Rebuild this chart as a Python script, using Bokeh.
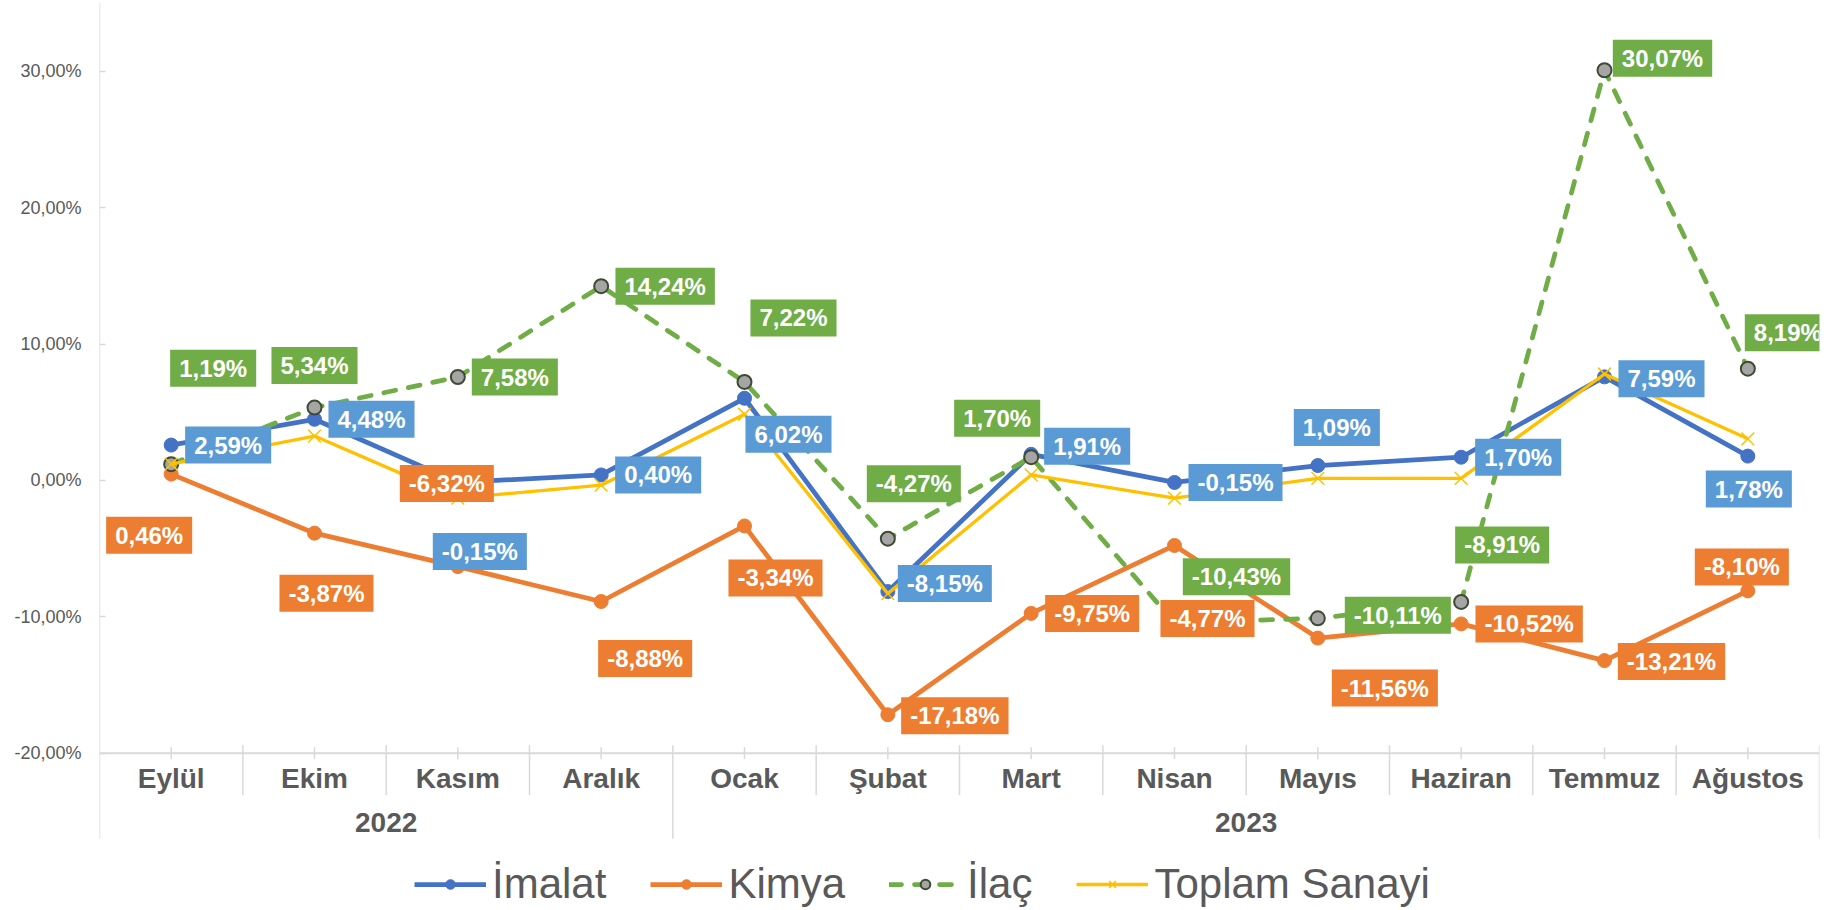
from bokeh.plotting import figure
from bokeh.models import Range1d, FixedTicker, Label, Legend, LegendItem
from bokeh.core.properties import value
from bokeh.embed import file_html
from bokeh.resources import INLINE

# ---------------- data ----------------
months = ["Eylül", "Ekim", "Kasım", "Aralık", "Ocak", "Şubat", "Mart",
          "Nisan", "Mayıs", "Haziran", "Temmuz", "Ağustos"]
years = ["2022", "2023"]
year_first_month = [0, 4]          # index of first month of each year group
imalat = [2.59, 4.48, -0.15, 0.40, 6.02, -8.15, 1.91, -0.15, 1.09, 1.70, 7.59, 1.78]
kimya = [0.46, -3.87, -6.32, -8.88, -3.34, -17.18, -9.75, -4.77, -11.56, -10.52, -13.21, -8.10]
ilac = [1.19, 5.34, 7.58, 14.24, 7.22, -4.27, 1.70, -10.43, -10.11, -8.91, 30.07, 8.19]
toplam = [1.20, 3.25, -1.30, -0.35, 4.85, -8.30, 0.40, -1.30, 0.15, 0.15, 7.80, 3.05]
series_names = ["İmalat", "Kimya", "İlaç", "Toplam Sanayi"]
y_ticks = [-20, -10, 0, 10, 20, 30]
y_tick_labels = ["-20,00%", "-10,00%", "0,00%", "10,00%", "20,00%", "30,00%"]

# ---------------- layout / style ----------------
W, H = 1827, 908
PPU = 13.64                         # pixels per percentage point
Y_TOP = 479.9 / PPU
Y_BOT = Y_TOP - H / PPU
AXIS_Y = -20.0
def px(d):
    return d / PPU

C_BLUE, C_ORANGE, C_GREEN, C_GOLD = "#4472C4", "#ED7D31", "#70AD47", "#FFC000"
C_BLUE_LBL = "#5B9BD5"
AX_COL = "#D9D9D9"
TXT_COL = "#595959"
FONT = "Liberation Sans"

# data label offsets (screen px, y downward) relative to each point
off_imalat = [(57, 0), (57, 0), (22, 69), (57, 0), (44, 36), (57, -8), (56, -8),
              (61, 0), (19, -38), (57, 0), (57, 2), (1, 33)]
off_kimya = [(-22, 61), (12, 60), (-11, -83), (44, 57), (31, 52), (67, 1), (61, 0),
             (33, 73), (67, 50), (68, 0), (67, 1), (-6, -24)]
off_ilac = [(42, -96), (0, -42), (57, 0), (64, 0), (49, -64), (26, -55), (-34, -39),
            (62, -46), (80, -3), (41, -57), (58, -12), (40, -36)]

xc = [i + 0.5 for i in range(len(months))]

p = figure(width=W, height=H, output_backend="svg", toolbar_location=None,
           x_range=Range1d(0, len(months)), y_range=Range1d(Y_BOT, Y_TOP),
           min_border_left=99, min_border_right=8, min_border_top=0, min_border_bottom=0,
           x_axis_location=None)
p.outline_line_color = None
p.xgrid.grid_line_color = None
p.ygrid.grid_line_color = None
p.background_fill_color = "white"

yax = p.yaxis[0]
yax.ticker = FixedTicker(ticks=y_ticks)
yax.major_label_overrides = {t: l for t, l in zip(y_ticks, y_tick_labels)}
yax.axis_line_color = None
yax.major_tick_in = 6
yax.major_tick_out = 0
yax.major_tick_line_color = AX_COL
yax.major_tick_line_width = 1.5
yax.minor_tick_line_color = None
yax.major_label_text_font = FONT
yax.major_label_text_font_size = "18px"
yax.major_label_text_color = TXT_COL
yax.major_label_standoff = 18

# --- custom category axis ---
n = len(months)
y_low = AXIS_Y - px(85.5)
p.segment(x0=[0], y0=[35.0], x1=[0], y1=[y_low], line_color=AX_COL, line_width=1.5)
p.segment(x0=[0], y0=[AXIS_Y], x1=[n], y1=[AXIS_Y], line_color=AX_COL, line_width=2)
long_b = [s for s in year_first_month[1:]] + [n]
mb = [b for b in range(1, n) if b not in long_b]
p.segment(x0=mb, y0=[AXIS_Y + px(8)] * len(mb), x1=mb, y1=[AXIS_Y - px(42)] * len(mb),
          line_color=AX_COL, line_width=1.5)
p.segment(x0=long_b, y0=[AXIS_Y + px(8)] * len(long_b), x1=long_b, y1=[y_low] * len(long_b),
          line_color=AX_COL, line_width=1.5)
p.segment(x0=xc, y0=[AXIS_Y + px(6)] * n, x1=xc, y1=[AXIS_Y - px(6)] * n,
          line_color=AX_COL, line_width=1.5)
p.text(x=xc, y=[AXIS_Y - px(25)] * n, text=months, text_align="center",
       text_baseline="middle", text_font=value(FONT), text_font_style="bold",
       text_font_size="28px", text_color=TXT_COL)
bounds = year_first_month + [n]
ycent = [(bounds[k] + bounds[k + 1]) / 2 for k in range(len(years))]
p.text(x=ycent, y=[AXIS_Y - px(69)] * len(years), text=years, text_align="center",
       text_baseline="middle", text_font=value(FONT), text_font_style="bold",
       text_font_size="28px", text_color=TXT_COL)

# --- series ---
r_im_l = p.line(xc, imalat, line_color=C_BLUE, line_width=4.75, line_join="round")
r_im_m = p.scatter(xc, imalat, marker="circle", size=14, fill_color=C_BLUE, line_color=C_BLUE)
r_ki_l = p.line(xc, kimya, line_color=C_ORANGE, line_width=4.75, line_join="round")
r_ki_m = p.scatter(xc, kimya, marker="circle", size=14, fill_color=C_ORANGE, line_color=C_ORANGE)
r_il_l = p.line(xc, ilac, line_color=C_GREEN, line_width=4.75, line_dash="12 13",
                line_cap="round", line_join="round")
r_il_m = p.scatter(xc, ilac, marker="circle", size=14, fill_color="#A5A5A5",
                   line_color="#3F4A33", line_width=2)
r_to_l = p.line(xc, toplam, line_color=C_GOLD, line_width=3.3, line_join="round")
r_to_m = p.scatter(xc, toplam, marker="x", size=18, line_color=C_GOLD, line_width=1.5)

# --- data labels ---
def fmt(v):
    return f"{v:.2f}".replace(".", ",") + "%"

for vals, offs, col in [(kimya, off_kimya, C_ORANGE), (imalat, off_imalat, C_BLUE_LBL),
                        (ilac, off_ilac, C_GREEN)]:
    for i, (v, (dx, dy)) in enumerate(zip(vals, offs)):
        p.add_layout(Label(x=xc[i], y=v, x_offset=dx, y_offset=-dy, text=fmt(v),
                           text_align="center", text_baseline="middle",
                           text_color="white", text_font=FONT, text_font_style="bold",
                           text_font_size="24px", background_fill_color=col,
                           padding=(9, 5)))

# --- legend ---
legend = Legend(items=[
    LegendItem(label=series_names[0], renderers=[r_im_l, r_im_m]),
    LegendItem(label=series_names[1], renderers=[r_ki_l, r_ki_m]),
    LegendItem(label=series_names[2], renderers=[r_il_l, r_il_m]),
    LegendItem(label=series_names[3], renderers=[r_to_l, r_to_m]),
], orientation="horizontal", location=(315, 0), glyph_width=72, glyph_height=24,
    label_text_font=FONT, label_text_font_size="42px", label_text_color=TXT_COL,
    label_standoff=6, spacing=44, padding=0, margin=0, border_line_color=None,
    background_fill_alpha=0)
p.add_layout(legend)

open("out.html", "w").write(file_html(p, INLINE))
